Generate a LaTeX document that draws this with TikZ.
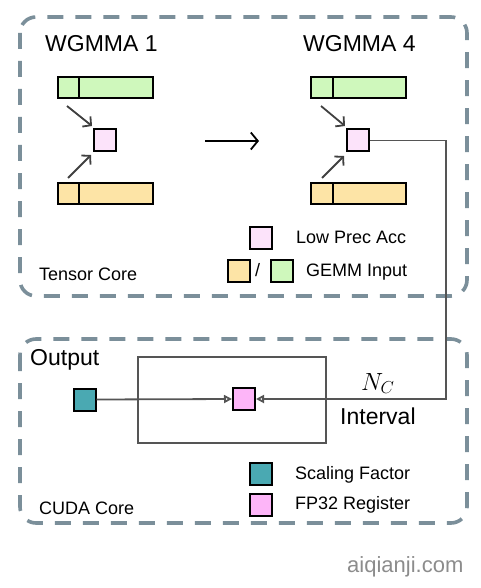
\documentclass[tikz,border=0pt]{standalone}
\usepackage{fontspec}
\setmainfont{Liberation Sans}
\usetikzlibrary{arrows.meta}
\definecolor{dashc}{HTML}{7B8F9A}
\definecolor{ingreen}{HTML}{CFF8BC}
\definecolor{inorange}{HTML}{FDE4A6}
\definecolor{lowpink}{HTML}{FCE3FA}
\definecolor{fppink}{HTML}{FDB5F8}
\definecolor{teal}{HTML}{4AA9B2}
\definecolor{wire}{HTML}{555555}
\tikzset{
  region/.style={draw=dashc, line width=3.6pt, dash pattern=on 16pt off 12pt, rounded corners=16pt},
  bar/.style={draw=black, line width=2.2pt, minimum width=95pt, minimum height=21pt, inner sep=0pt},
  sq/.style={draw=black, line width=2pt, minimum width=22pt, minimum height=22pt, inner sep=0pt},
  feed/.style={draw=black!75, line width=1.8pt, -{Straight Barb[length=6pt,width=13pt,line width=1.8pt]}},
  wireline/.style={draw=wire, line width=1.8pt},
  otip/.style={-{Triangle[open,length=8pt,width=8pt]}},
  lbl/.style={inner sep=0pt, anchor=base west},
  big/.style={font=\fontsize{23}{28}\selectfont},
  mid/.style={font=\fontsize{18}{22}\selectfont},
}
\begin{document}
\begin{tikzpicture}[x=1pt,y=-1pt]
\useasboundingbox (0,0) rectangle (480,588);
% regions
\draw[region] (20,17) rectangle (467,296);
\draw[region] (20,339) rectangle (467,523);
% WGMMA 1
\node[lbl,big] (w1) at (45,52) {WGMMA 1};
\node[bar,fill=ingreen] (g1) at (105.5,87.5) {};
\node[bar,fill=inorange] (o1) at (105.5,193.5) {};
\draw[line width=2.2pt] (79,77) -- (79,98);
\draw[line width=2.2pt] (79,183) -- (79,204);
\node[sq,fill=lowpink] (a1) at (105,140.5) {};
\coordinate (f1) at (67,106);
\coordinate (f2) at (68,178);
\draw[feed] (f1) -- (92,126);
\draw[feed] (f2) -- (91,155);
% WGMMA 4
\node[lbl,big] (w4) at (303,52) {WGMMA 4};
\node[bar,fill=ingreen] (g4) at (358.5,87.5) {};
\node[bar,fill=inorange] (o4) at (358.5,193.5) {};
\draw[line width=2.2pt] (333,77) -- (333,98);
\draw[line width=2.2pt] (333,183) -- (333,204);
\node[sq,fill=lowpink] (a4) at (358,140.5) {};
\coordinate (f3) at (321,106);
\coordinate (f4) at (322,178);
\draw[feed] (f3) -- (345,126);
\draw[feed] (f4) -- (344,156);
% middle arrow
\coordinate (m1) at (205,141);
\coordinate (m2) at (259,141);
\draw[line width=1.8pt, -{Straight Barb[length=7pt,width=17pt,line width=1.8pt]}] (m1) -- (m2);
% legend top
\node[sq,fill=lowpink] (lp) at (261,237.5) {};
\node[lbl,mid] (lpt) at (296,243) {Low Prec Acc};
\node[sq,fill=inorange] (lo) at (239,271) {};
\node[lbl,mid] (sl) at (255,276) {/};
\node[sq,fill=ingreen] (lg) at (282,271) {};
\node[lbl,mid] (lgt) at (306,276) {GEMM Input};
\node[lbl,mid] (tc) at (39,280) {Tensor Core};
% bottom
\node[lbl,big] (out) at (30,365) {Output};
\draw[wireline] (138,357) rectangle (326,443);
\node[sq,fill=teal] (sf) at (84.5,399.5) {};
\node[sq,fill=fppink] (reg) at (244,399) {};
\coordinate (c1) at (446,140.5);
\coordinate (c2) at (446,399);
\draw[wireline,otip] (a4.east) -- (c1) -- (c2) -- (reg.east);
\draw[wireline,otip] (sf.east) -- (reg.west);
\node[lbl,font=\fontsize{27}{30}\selectfont] (nc) at (361,390) {$N_C$};
\node[lbl,big] (iv) at (340,424) {Interval};
% legend bottom
\node[sq,fill=teal] (ls) at (261,473.5) {};
\node[lbl,mid] (lst) at (295,479) {Scaling Factor};
\node[sq,fill=fppink] (lf) at (261,505) {};
\node[lbl,mid] (lft) at (295,509) {FP32 Register};
\node[lbl,mid] (cc) at (39,514) {CUDA Core};
% watermark
\node[lbl,font=\fontsize{22}{26}\selectfont,text=black!45] (wm) at (347,572) {aiqianji.com};
\end{tikzpicture}
\end{document}
